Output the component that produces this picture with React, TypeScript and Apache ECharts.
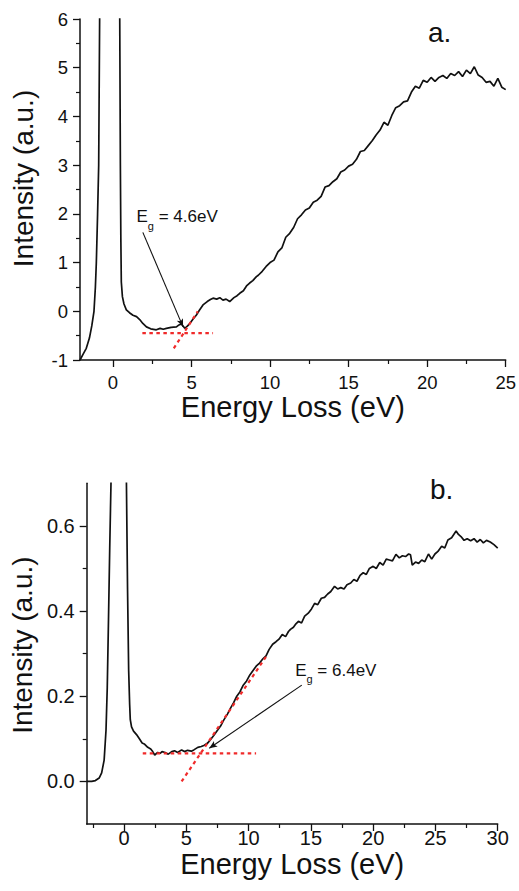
import React, { useEffect, useRef } from "react";
import * as echarts from "echarts";

// ---- data (panel a) ----
const topSpectrum: [number, number][] = [
  [-2.1, -1.0], [-1.9, -0.88], [-1.7, -0.76], [-1.5, -0.55], [-1.35, -0.3], [-1.21, 0.0],
  [-1.12, 0.5], [-1.06, 1.0], [-0.98, 2.0], [-0.91, 3.0], [-0.85, 6.0], [-0.7, 12], [-0.2, 40],
  [0.3, 12], [0.43, 6.0], [0.47, 3.0], [0.5, 1.5], [0.53, 0.6], [0.6, 0.3], [0.7, 0.15],
  [0.85, 0.03], [1.05, -0.03], [1.27, -0.08], [1.5, -0.11], [1.7, -0.17], [1.9, -0.25],
  [2.13, -0.32], [2.4, -0.36], [2.76, -0.38], [3.0, -0.35], [3.2, -0.37], [3.4, -0.35],
  [3.7, -0.33], [4.04, -0.32], [4.2, -0.28], [4.36, -0.26], [4.57, -0.35], [4.75, -0.3],
  [4.89, -0.25], [5.1, -0.16], [5.3, -0.08], [5.5, 0.02], [5.73, 0.13], [6.0, 0.2],
  [6.2, 0.24], [6.37, 0.27], [6.6, 0.25], [6.8, 0.28], [7.0, 0.23], [7.2, 0.25], [7.43, 0.2],
  [7.7, 0.28], [7.9, 0.32], [8.07, 0.37], [8.3, 0.42], [8.5, 0.52], [8.7, 0.58], [8.9, 0.63],
  [9.13, 0.71], [9.25, 0.74], [9.5, 0.82], [9.75, 0.92], [10.0, 1.0], [10.25, 1.05],
  [10.5, 1.22], [10.75, 1.3], [11.0, 1.52], [11.25, 1.6], [11.5, 1.72], [11.75, 1.9],
  [12.0, 1.98], [12.25, 2.08], [12.5, 2.12], [12.75, 2.24], [13.0, 2.28], [13.25, 2.36],
  [13.5, 2.55], [13.75, 2.58], [14.0, 2.66], [14.25, 2.72], [14.5, 2.86], [14.75, 2.9],
  [15.0, 2.98], [15.25, 3.02], [15.5, 3.12], [15.75, 3.28], [16.0, 3.3], [16.25, 3.4],
  [16.5, 3.5], [16.75, 3.62], [17.0, 3.72], [17.25, 3.88], [17.5, 3.82], [17.75, 4.02],
  [18.0, 4.18], [18.25, 4.22], [18.5, 4.3], [18.75, 4.32], [19.0, 4.5], [19.25, 4.62],
  [19.5, 4.58], [19.75, 4.74], [20.0, 4.7], [20.25, 4.8], [20.5, 4.72], [20.75, 4.8],
  [21.0, 4.84], [21.25, 4.78], [21.5, 4.88], [21.75, 4.84], [22.0, 4.92], [22.25, 4.82],
  [22.5, 4.95], [22.75, 4.88], [23.0, 5.02], [23.25, 4.85], [23.5, 4.8], [23.75, 4.7],
  [24.0, 4.72], [24.25, 4.62], [24.5, 4.78], [24.75, 4.6], [25.0, 4.55],
];
const topBaseline: [number, number][] = [[1.87, -0.45], [6.37, -0.45]];
const topSlope: [number, number][] = [[3.87, -0.76], [5.4, 0.0]];
const topArrow: [number, number][] = [[1.9, 1.62], [4.46, -0.32]];
const topLabelAt: [number, number] = [1.53, 2.1];
const topLabelText = "{e|E}{g|g}{e| = 4.6eV}";
const topXMajor = [0, 5, 10, 15, 20, 25];
const topXMinor = [2.5, 7.5, 12.5, 17.5, 22.5];

// ---- data (panel b) ----
const bottomSpectrum: [number, number][] = [
  [-3.0, 0.0], [-2.6, 0.0], [-2.3, 0.002], [-2.0, 0.008], [-1.8, 0.02], [-1.6, 0.05],
  [-1.45, 0.12], [-1.35, 0.22], [-1.25, 0.38], [-1.15, 0.55], [-1.05, 0.7], [-0.95, 0.95],
  [-0.4, 3.0], [0.1, 0.95], [0.19, 0.7], [0.28, 0.45], [0.37, 0.26], [0.45, 0.18], [0.5, 0.145],
  [0.6, 0.128], [0.76, 0.118], [1.0, 0.11], [1.23, 0.1], [1.45, 0.09], [1.62, 0.088],
  [1.9, 0.08], [2.14, 0.076], [2.3, 0.07], [2.46, 0.062], [2.7, 0.068], [2.9, 0.066],
  [3.05, 0.07], [3.3, 0.068], [3.55, 0.064], [3.83, 0.07], [4.05, 0.072], [4.3, 0.068],
  [4.62, 0.074], [4.85, 0.07], [5.1, 0.073], [5.4, 0.071], [5.6, 0.074], [5.92, 0.08],
  [6.2, 0.082], [6.45, 0.085], [6.71, 0.09], [7.0, 0.1], [7.23, 0.109], [7.5, 0.12],
  [7.75, 0.13], [8.0, 0.144], [8.3, 0.158], [8.55, 0.172], [8.8, 0.185], [9.05, 0.2],
  [9.3, 0.21], [9.55, 0.225], [9.84, 0.236], [10.1, 0.25], [10.4, 0.262], [10.65, 0.272],
  [10.88, 0.278], [11.15, 0.288], [11.4, 0.295], [11.65, 0.31], [11.93, 0.322], [12.2, 0.328],
  [12.44, 0.334], [12.7, 0.345], [12.97, 0.34], [13.2, 0.352], [13.36, 0.357], [13.6, 0.362],
  [13.8, 0.37], [14.0, 0.376], [14.25, 0.372], [14.5, 0.388], [14.79, 0.395], [15.05, 0.405],
  [15.3, 0.418], [15.55, 0.415], [15.84, 0.43], [16.1, 0.432], [16.35, 0.44], [16.6, 0.446],
  [16.9, 0.458], [17.15, 0.452], [17.4, 0.455], [17.66, 0.452], [17.9, 0.462], [18.2, 0.466],
  [18.45, 0.474], [18.7, 0.47], [18.95, 0.484], [19.2, 0.49], [19.45, 0.486], [19.7, 0.5],
  [20.0, 0.505], [20.25, 0.5], [20.53, 0.514], [20.8, 0.508], [21.05, 0.522], [21.3, 0.52],
  [21.55, 0.518], [21.83, 0.533], [22.1, 0.525], [22.35, 0.53], [22.6, 0.528], [22.85, 0.534],
  [23.0, 0.532], [23.14, 0.508], [23.4, 0.515], [23.65, 0.512], [23.9, 0.52], [24.15, 0.516],
  [24.44, 0.534], [24.7, 0.522], [24.96, 0.534], [25.2, 0.54], [25.5, 0.552], [25.75, 0.548],
  [26.0, 0.567], [26.3, 0.572], [26.66, 0.588], [26.85, 0.58], [27.05, 0.575], [27.3, 0.566],
  [27.55, 0.57], [27.83, 0.565], [28.1, 0.57], [28.35, 0.562], [28.6, 0.568], [28.85, 0.56],
  [29.1, 0.566], [29.4, 0.562], [29.7, 0.556], [30.0, 0.548],
];
const bottomBaseline: [number, number][] = [[1.5, 0.066], [10.6, 0.066]];
const bottomSlope: [number, number][] = [[4.62, 0.0], [11.4, 0.293]];
const bottomArrow: [number, number][] = [[14.27, 0.226], [6.84, 0.078]];
const bottomLabelAt: [number, number] = [13.78, 0.28];
const bottomLabelText = "{e|E}{g|g}{e| = 6.4eV}";
const bottomXMajor = [0, 5, 10, 15, 20, 25, 30];
const bottomXMinor = [-2.5, 2.5, 7.5, 12.5, 17.5, 22.5, 27.5];
const bottomYMajor = [0, 0.2, 0.4, 0.6];
const bottomYMinor = [0.1, 0.3, 0.5];

const FONT = "Liberation Sans, Arial, sans-serif";
const BLACK = "#111";
const RED = "#f02a2a";

function majorX(gridIndex: number, min: number, max: number, ticks: number[], labelSize: number, margin: number, nameGap: number) {
  return {
    type: "value", gridIndex, min, max, position: "bottom",
    name: "Energy Loss (eV)", nameLocation: "middle", nameGap,
    nameTextStyle: { fontFamily: FONT, fontSize: 29, color: BLACK },
    axisLine: { show: true, onZero: false, lineStyle: { color: BLACK, width: 1.5 } },
    axisTick: { show: true, customValues: ticks, length: 7, lineStyle: { color: BLACK, width: 1.3 } },
    axisLabel: { show: true, customValues: ticks, margin, fontFamily: FONT, fontSize: labelSize, color: BLACK },
    splitLine: { show: false },
  };
}
function minorX(gridIndex: number, min: number, max: number, ticks: number[]) {
  return {
    type: "value", gridIndex, min, max, position: "bottom",
    axisLine: { show: false, onZero: false },
    axisTick: { show: true, customValues: ticks, length: 4, lineStyle: { color: BLACK, width: 1.2 } },
    axisLabel: { show: false },
    splitLine: { show: false },
  };
}

const rich = {
  e: { fontFamily: FONT, fontSize: 17, color: BLACK, lineHeight: 19, verticalAlign: "top" },
  g: { fontFamily: FONT, fontSize: 11, color: BLACK, lineHeight: 11, verticalAlign: "top", padding: [12, 0, 0, 0] },
};

function spectrumSeries(xi: number, yi: number, data: [number, number][], arrow: [number, number][], labelAt: [number, number], text: string) {
  return {
    type: "line", xAxisIndex: xi, yAxisIndex: yi, data, showSymbol: false, symbol: "none",
    clip: true, lineStyle: { color: BLACK, width: 1.7 }, silent: true,
    markLine: {
      silent: true, animation: false,
      label: { show: false },
      lineStyle: { color: BLACK, width: 1.1, type: "solid" },
      data: [[
        { coord: arrow[0], symbol: "none" },
        { coord: arrow[1], symbol: "arrow", symbolSize: [5, 8] },
      ]],
    },
    markPoint: {
      silent: true, animation: false,
      data: [{
        coord: labelAt, symbol: "circle", symbolSize: 1, itemStyle: { color: "rgba(0,0,0,0)" },
        label: { show: true, position: [0, 0], align: "left", verticalAlign: "top", formatter: text, rich },
      }],
    },
  };
}
function dashSeries(xi: number, yi: number, data: [number, number][]) {
  return {
    type: "line", xAxisIndex: xi, yAxisIndex: yi, data, showSymbol: false, symbol: "none",
    silent: true, z: 3, lineStyle: { color: RED, width: 2.2, type: [3.5, 3.5] },
  };
}

export default function App() {
  const ref = useRef<HTMLDivElement>(null);
  useEffect(() => {
    if (!ref.current) return;
    const chart = echarts.init(ref.current, undefined, { renderer: "svg" });
    chart.setOption({
      animation: false,
      backgroundColor: "#ffffff",
      textStyle: { fontFamily: FONT },
      title: [
        { text: "a.", left: 423, top: 13, textStyle: { fontFamily: FONT, fontSize: 28, fontWeight: "normal", color: BLACK } },
        { text: "b.", left: 425, top: 470, textStyle: { fontFamily: FONT, fontSize: 28, fontWeight: "normal", color: BLACK } },
      ],
      grid: [
        { left: 80, right: 13.3, top: 19, height: 341, containLabel: false },
        { left: 76, right: 21.3, top: 483.3, height: 340.7, containLabel: false },
      ],
      xAxis: [
        majorX(0, -2.1, 25, topXMajor, 18.5, 13, 31),
        minorX(0, -2.1, 25, topXMinor),
        majorX(1, -3, 30, bottomXMajor, 20, 4, 25),
        minorX(1, -3, 30, bottomXMinor),
      ],
      yAxis: [
        {
          type: "value", gridIndex: 0, min: -1, max: 6, interval: 1, position: "left",
          name: "Intensity (a.u.)", nameLocation: "middle", nameGap: 43,
          nameTextStyle: { fontFamily: FONT, fontSize: 28, color: BLACK, padding: [0, 0, 0, 22] },
          axisLine: { show: true, onZero: false, lineStyle: { color: BLACK, width: 1.5 } },
          axisTick: { show: true, length: 7, lineStyle: { color: BLACK, width: 1.3 } },
          minorTick: { show: true, splitNumber: 2, length: 4, lineStyle: { color: BLACK, width: 1.2 } },
          axisLabel: { margin: 12, fontFamily: FONT, fontSize: 18.5, color: BLACK },
          splitLine: { show: false }, minorSplitLine: { show: false },
        },
        {
          type: "value", gridIndex: 1, min: -0.1, max: 0.7, position: "left",
          name: "Intensity (a.u.)", nameLocation: "middle", nameGap: 44,
          nameTextStyle: { fontFamily: FONT, fontSize: 28, color: BLACK, padding: [0, 0, 0, 17] },
          axisLine: { show: true, onZero: false, lineStyle: { color: BLACK, width: 1.5 } },
          axisTick: { show: true, customValues: bottomYMajor, length: 7, lineStyle: { color: BLACK, width: 1.3 } },
          axisLabel: {
            customValues: bottomYMajor, margin: 12, fontFamily: FONT, fontSize: 20, color: BLACK,
            formatter: (v: number) => v.toFixed(1),
          },
          splitLine: { show: false },
        },
        {
          type: "value", gridIndex: 1, min: -0.1, max: 0.7, position: "left",
          axisLine: { show: false, onZero: false },
          axisTick: { show: true, customValues: bottomYMinor, length: 4, lineStyle: { color: BLACK, width: 1.2 } },
          axisLabel: { show: false },
          splitLine: { show: false },
        },
      ],
      series: [
        spectrumSeries(0, 0, topSpectrum, topArrow, topLabelAt, topLabelText),
        dashSeries(0, 0, topBaseline),
        dashSeries(0, 0, topSlope),
        spectrumSeries(2, 1, bottomSpectrum, bottomArrow, bottomLabelAt, bottomLabelText),
        dashSeries(2, 1, bottomBaseline),
        dashSeries(2, 1, bottomSlope),
      ],
    });
    return () => chart.dispose();
  }, []);
  return (
    <div
      ref={ref}
      style={{ position: "fixed", left: 0, top: 0, width: 519, height: 891, background: "#fff" }}
    />
  );
}
